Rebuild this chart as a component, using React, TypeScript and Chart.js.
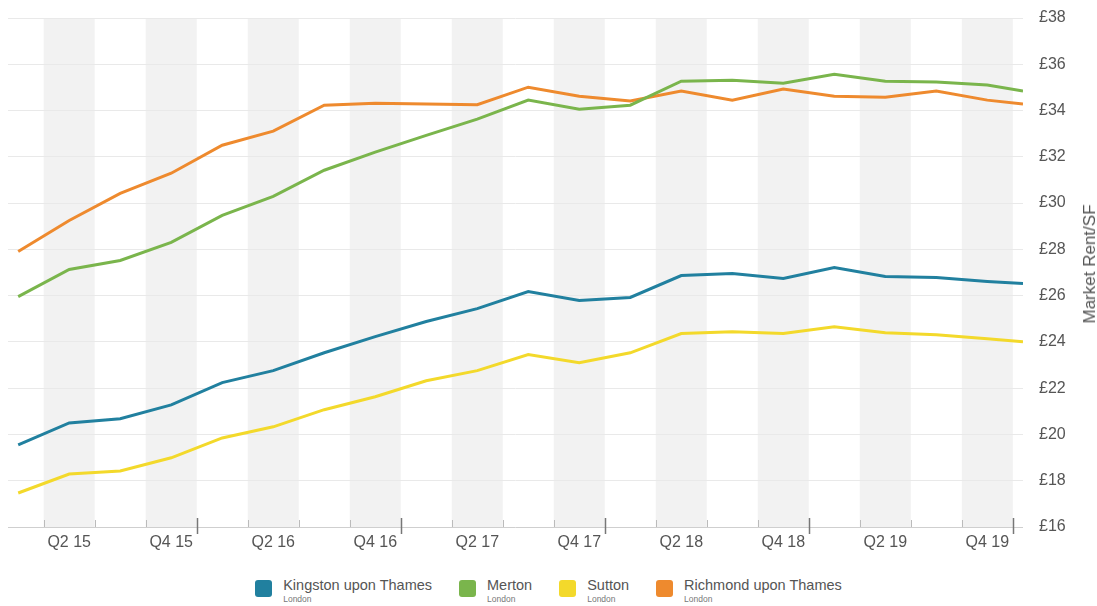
import React, { useEffect, useRef } from "react";
import { Chart, registerables } from "chart.js";

Chart.register(...registerables);

// ---- Data ----
const quarters = [
  "Q1 15", "Q2 15", "Q3 15", "Q4 15",
  "Q1 16", "Q2 16", "Q3 16", "Q4 16",
  "Q1 17", "Q2 17", "Q3 17", "Q4 17",
  "Q1 18", "Q2 18", "Q3 18", "Q4 18",
  "Q1 19", "Q2 19", "Q3 19", "Q4 19",
  "Q1 20",
];
// position along the time axis (last point is a partial, to-date quarter)
const quarterPos = [0, 1, 2, 3, 4, 5, 6, 7, 8, 9, 10, 11, 12, 13, 14, 15, 16, 17, 18, 19, 19.7];

const axisLabels = ["Q2 15", "Q4 15", "Q2 16", "Q4 16", "Q2 17", "Q4 17", "Q2 18", "Q4 18", "Q2 19", "Q4 19"];
const yTickValues = [16, 18, 20, 22, 24, 26, 28, 30, 32, 34, 36, 38];

const kingston = [19.55, 20.5, 20.68, 21.28, 22.24, 22.76, 23.53, 24.23, 24.88, 25.44, 26.18, 25.79, 25.92, 26.87, 26.96, 26.74, 27.22, 26.83, 26.78, 26.61, 26.52];
const merton = [25.96, 27.13, 27.52, 28.3, 29.47, 30.29, 31.42, 32.2, 32.93, 33.63, 34.45, 34.06, 34.23, 35.27, 35.31, 35.18, 35.57, 35.27, 35.23, 35.1, 34.84];
const sutton = [17.47, 18.29, 18.42, 18.99, 19.85, 20.33, 21.07, 21.63, 22.32, 22.76, 23.45, 23.1, 23.53, 24.36, 24.44, 24.36, 24.66, 24.4, 24.31, 24.14, 24.01];
const richmond = [27.91, 29.25, 30.42, 31.29, 32.5, 33.11, 34.23, 34.32, 34.28, 34.25, 35.01, 34.62, 34.41, 34.84, 34.45, 34.93, 34.62, 34.58, 34.84, 34.45, 34.28];

const seriesNames = ["Kingston upon Thames", "Merton", "Sutton", "Richmond upon Thames"];
const seriesRegion = ["London", "London", "London", "London"];
const seriesValues = [kingston, merton, sutton, richmond];
const seriesColors = ["#21809f", "#7ab54c", "#f3d92b", "#ee8a2e"];

const FONT = '"Liberation Sans", Arial, Helvetica, sans-serif';

export default function App() {
  const canvasRef = useRef<HTMLCanvasElement | null>(null);

  useEffect(() => {
    if (!canvasRef.current) return;
    const tickPositions = axisLabels.map((l) => quarterPos[quarters.indexOf(l)]);

    const bandPlugin = {
      id: "bands",
      beforeDraw(chart: any) {
        const { ctx, chartArea, scales } = chart;
        const x = scales.x;
        ctx.save();
        ctx.fillStyle = "#f2f2f2";
        tickPositions.forEach((p) => {
          const l = x.getPixelForValue(p - 0.5);
          const r = x.getPixelForValue(p + 0.5);
          ctx.fillRect(l, chartArea.top, r - l, chartArea.bottom - chartArea.top);
        });
        ctx.restore();
      },
      afterDraw(chart: any) {
        const { ctx, chartArea, scales } = chart;
        const x = scales.x;
        const b = chartArea.bottom;
        ctx.save();
        for (let i = 0; i < 20; i++) {
          const px = Math.round(x.getPixelForValue(quarterPos[i] + 0.5)) + 0.5;
          const major = quarters[i].startsWith("Q4");
          ctx.beginPath();
          ctx.lineWidth = major ? 1.5 : 1;
          ctx.strokeStyle = major ? "#777" : "#bbb";
          if (major) {
            ctx.moveTo(px, b - 9);
            ctx.lineTo(px, b + 7);
          } else {
            ctx.moveTo(px, b - 7);
            ctx.lineTo(px, b);
          }
          ctx.stroke();
        }
        ctx.restore();
      },
    };

    const chart = new Chart(canvasRef.current, {
      type: "line",
      data: {
        datasets: seriesNames.map((name, si) => ({
          label: name,
          data: seriesValues[si].map((v, i) => ({ x: quarterPos[i], y: v })),
          borderColor: seriesColors[si],
          backgroundColor: seriesColors[si],
          borderWidth: 3,
          pointRadius: 0,
          tension: 0,
          fill: false,
        })),
      },
      options: {
        animation: false,
        responsive: false,
        maintainAspectRatio: false,
        layout: { padding: { left: 8, top: 18, right: 0, bottom: 0 } },
        plugins: {
          legend: { display: false },
          tooltip: { enabled: false },
          title: { display: false },
        },
        scales: {
          x: {
            type: "linear",
            min: -0.2,
            max: quarterPos[quarterPos.length - 1],
            grid: { display: false, drawTicks: false },
            border: { display: false },
            afterBuildTicks: (scale: any) => {
              scale.ticks = tickPositions.map((v) => ({ value: v }));
            },
            afterFit: (scale: any) => {
              scale.height = 33;
            },
            ticks: {
              autoSkip: false,
              maxRotation: 0,
              minRotation: 0,
              padding: 6,
              color: "#555",
              font: { family: FONT, size: 16 },
              callback: (v: any) => {
                const idx = tickPositions.indexOf(Number(v));
                return idx >= 0 ? axisLabels[idx] : "";
              },
            },
          },
          y: {
            position: "right",
            min: yTickValues[0],
            max: yTickValues[yTickValues.length - 1],
            afterBuildTicks: (scale: any) => {
              scale.ticks = yTickValues.map((v) => ({ value: v }));
            },
            afterFit: (scale: any) => {
              scale.width = 74;
              scale.paddingTop = 0;
              scale.paddingBottom = 0;
            },
            grid: {
              drawTicks: false,
              color: (c: any) => (c.tick && c.tick.value === yTickValues[0] ? "#cfcfcf" : "#e9e9e9"),
              lineWidth: 1,
            },
            border: { display: false },
            ticks: {
              padding: 16,
              color: "#555",
              font: { family: FONT, size: 16 },
              callback: (v: any) => "£" + v,
            },
          },
        },
      },
      plugins: [bandPlugin],
    });
    return () => chart.destroy();
  }, []);

  return (
    <div style={{ position: "absolute", left: 0, top: 0, width: 1097, height: 606, background: "#fff", fontFamily: FONT, overflow: "hidden" }}>
      <canvas ref={canvasRef} width={1097} height={560} style={{ position: "absolute", left: 0, top: 0, width: 1097, height: 560 }} />
      <div
        style={{
          position: "absolute",
          left: 1090,
          top: 264,
          transform: "translate(-50%, -50%) rotate(-90deg)",
          fontSize: 17,
          color: "#555",
          whiteSpace: "nowrap",
        }}
      >
        Market Rent/SF
      </div>
      <div
        style={{
          position: "absolute",
          left: 0,
          top: 577,
          width: 1097,
          display: "flex",
          justifyContent: "center",
          gap: 27,
        }}
      >
        {seriesNames.map((name, i) => (
          <div key={name} style={{ display: "flex", alignItems: "flex-start" }}>
            <div
              style={{
                width: 17,
                height: 17,
                borderRadius: 3,
                background: seriesColors[i],
                marginRight: 11,
                marginTop: 3,
              }}
            />
            <div style={{ display: "flex", flexDirection: "column" }}>
              <span style={{ fontSize: 14.5, color: "#555", lineHeight: "16px" }}>{name}</span>
              <span style={{ fontSize: 8.5, color: "#777", lineHeight: "13px" }}>{seriesRegion[i]}</span>
            </div>
          </div>
        ))}
      </div>
    </div>
  );
}
